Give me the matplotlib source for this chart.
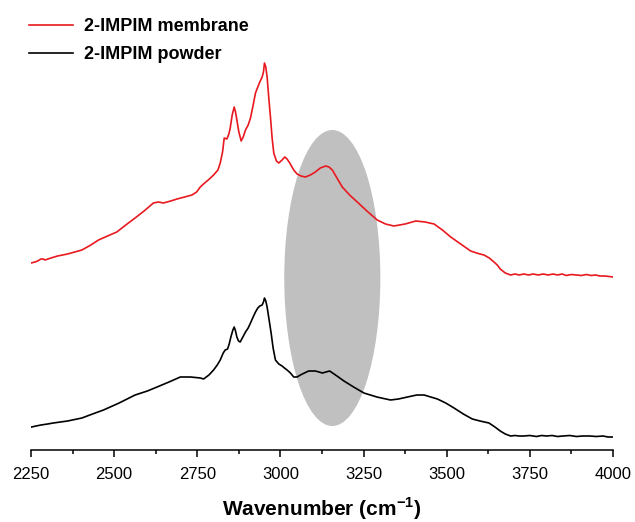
import matplotlib.pyplot as plt
from matplotlib.patches import Ellipse

plt.rcParams['font.family'] = ['Liberation Sans', 'DejaVu Sans']
plt.rcParams['mathtext.fontset'] = 'custom'
plt.rcParams['mathtext.rm'] = 'Liberation Sans'
plt.rcParams['mathtext.bf'] = 'Liberation Sans:bold'

# membrane spectrum (wavenumber, intensity a.u.)
wn_membrane = [2250, 2262, 2270, 2280, 2287, 2292, 2310, 2330, 2360, 2403, 2430, 2453,
               2480, 2508, 2535, 2563, 2590, 2618, 2633, 2648, 2670, 2689, 2712, 2734,
               2748, 2759, 2772, 2783, 2799, 2812, 2819, 2826, 2831, 2839, 2845, 2849,
               2855, 2861, 2865, 2869, 2875, 2882, 2888, 2895, 2903, 2910, 2918, 2925,
               2932, 2938, 2945, 2949, 2952, 2956, 2960, 2965, 2970, 2975, 2980, 2988,
               2995, 3005, 3013, 3020, 3028, 3040, 3050, 3062, 3075, 3090, 3105, 3120,
               3136, 3146, 3156, 3170, 3186, 3208, 3231, 3260, 3291, 3316, 3341, 3375,
               3407, 3435, 3462, 3487, 3512, 3542, 3572, 3590, 3600, 3612, 3628, 3642,
               3652, 3661, 3676, 3692, 3705, 3718, 3732, 3746, 3760, 3775, 3790, 3805,
               3820, 3833, 3847, 3860, 3875, 3890, 3905, 3920, 3934, 3948, 3960, 3975,
               3988, 4000]
int_membrane = [1.87, 1.88, 1.89, 1.91, 1.91, 1.90, 1.92, 1.94, 1.96, 2.00, 2.05, 2.10,
                2.14, 2.18, 2.25, 2.32, 2.39, 2.47, 2.48, 2.47, 2.49, 2.51, 2.53, 2.55,
                2.58, 2.63, 2.67, 2.70, 2.75, 2.80, 2.87, 2.98, 3.12, 3.11, 3.16, 3.22,
                3.35, 3.43, 3.38, 3.30, 3.18, 3.09, 3.13, 3.20, 3.25, 3.32, 3.45, 3.57,
                3.63, 3.68, 3.73, 3.78, 3.87, 3.83, 3.73, 3.52, 3.33, 3.12, 2.97, 2.89,
                2.87, 2.90, 2.93, 2.91, 2.87, 2.80, 2.76, 2.74, 2.73, 2.75, 2.78, 2.82,
                2.84, 2.83, 2.80, 2.72, 2.63, 2.55, 2.48, 2.39, 2.30, 2.26, 2.24, 2.26,
                2.29, 2.28, 2.26, 2.20, 2.13, 2.06, 1.99, 1.97, 1.96, 1.95, 1.92, 1.88,
                1.85, 1.81, 1.77, 1.75, 1.76, 1.75, 1.76, 1.75, 1.76, 1.75, 1.76, 1.75,
                1.76, 1.75, 1.76, 1.745, 1.755, 1.75, 1.745, 1.755, 1.745, 1.75, 1.74, 1.74,
                1.735, 1.73]

# powder spectrum
wn_powder = [2252, 2265, 2280, 2300, 2317, 2360, 2403, 2435, 2468, 2515, 2563, 2600,
             2629, 2665, 2699, 2730, 2759, 2769, 2785, 2799, 2810, 2819, 2828, 2834,
             2841, 2846, 2851, 2857, 2861, 2865, 2869, 2874, 2879, 2887, 2895, 2903,
             2910, 2918, 2925, 2932, 2938, 2945, 2949, 2952, 2956, 2960, 2966, 2972,
             2978, 2985, 2995, 3005, 3012, 3020, 3030, 3040, 3050, 3060, 3072, 3085,
             3095, 3105, 3116, 3126, 3137, 3148, 3170, 3191, 3220, 3251, 3290, 3331,
             3355, 3382, 3410, 3432, 3452, 3472, 3497, 3522, 3550, 3577, 3600, 3627,
             3645, 3661, 3676, 3692, 3705, 3718, 3732, 3750, 3770, 3785, 3800, 3817,
             3833, 3850, 3870, 3890, 3910, 3930, 3950, 3970, 3985, 4000]
int_powder = [0.23, 0.24, 0.25, 0.26, 0.27, 0.29, 0.32, 0.36, 0.40, 0.47, 0.55, 0.59,
              0.63, 0.68, 0.73, 0.73, 0.72, 0.71, 0.75, 0.80, 0.85, 0.90, 0.97, 1.00,
              1.01, 1.06, 1.13, 1.20, 1.23, 1.19, 1.13, 1.09, 1.08, 1.13, 1.18, 1.22,
              1.27, 1.33, 1.38, 1.42, 1.44, 1.45, 1.48, 1.52, 1.49, 1.43, 1.30, 1.17,
              1.02, 0.90, 0.86, 0.84, 0.82, 0.80, 0.77, 0.73, 0.73, 0.75, 0.77, 0.79,
              0.79, 0.79, 0.78, 0.77, 0.78, 0.79, 0.74, 0.69, 0.63, 0.57, 0.53, 0.50,
              0.51, 0.53, 0.55, 0.55, 0.53, 0.51, 0.47, 0.42, 0.36, 0.31, 0.29, 0.27,
              0.23, 0.19, 0.16, 0.14, 0.145, 0.14, 0.14, 0.145, 0.135, 0.145, 0.14, 0.145,
              0.135, 0.14, 0.145, 0.135, 0.14, 0.14, 0.135, 0.14, 0.13, 0.13]

labels = ['2-IMPIM membrane', '2-IMPIM powder']
xticks = [2250, 2500, 2750, 3000, 3250, 3500, 3750, 4000]

fig = plt.figure(figsize=(6.35, 5.22), dpi=100)
ax = fig.add_axes([31/635, 72/522, 582/635, 440/522])

# highlighted region
ax.add_patch(Ellipse((3156, 1.72), 289, 2.96, facecolor='#c0c0c0', edgecolor='none', zorder=1))

ax.plot(wn_membrane, int_membrane, color='#e8191f', lw=1.2, label=labels[0], zorder=3)
ax.plot(wn_powder, int_powder, color='black', lw=1.2, label=labels[1], zorder=3)

ax.set_xlim(2250, 4000)
ax.set_ylim(0, 4.4)
ax.set_xticks(xticks)
ax.set_xticks([x + 125 for x in xticks[:-1]], minor=True)
ax.tick_params(axis='x', which='major', direction='out', length=5, width=1.1, labelsize=12, pad=7)
ax.tick_params(axis='x', which='minor', direction='out', length=3, width=1.1)
ax.set_yticks([])
for s in ['left', 'right', 'top']:
    ax.spines[s].set_visible(False)
ax.spines['bottom'].set_linewidth(1.1)

ax.set_xlabel(r'Wavenumber (cm$^{\mathbf{-1}}$)', fontsize=15, fontweight='bold', labelpad=10)

leg = ax.legend(loc='upper left', bbox_to_anchor=(13/635, 1 - 2/522), bbox_transform=fig.transFigure,
                frameon=False, handlelength=2.45, handletextpad=0.6, labelspacing=0.6,
                prop={'size': 13, 'weight': 'bold'})

fig.savefig('out.png', dpi=100)
